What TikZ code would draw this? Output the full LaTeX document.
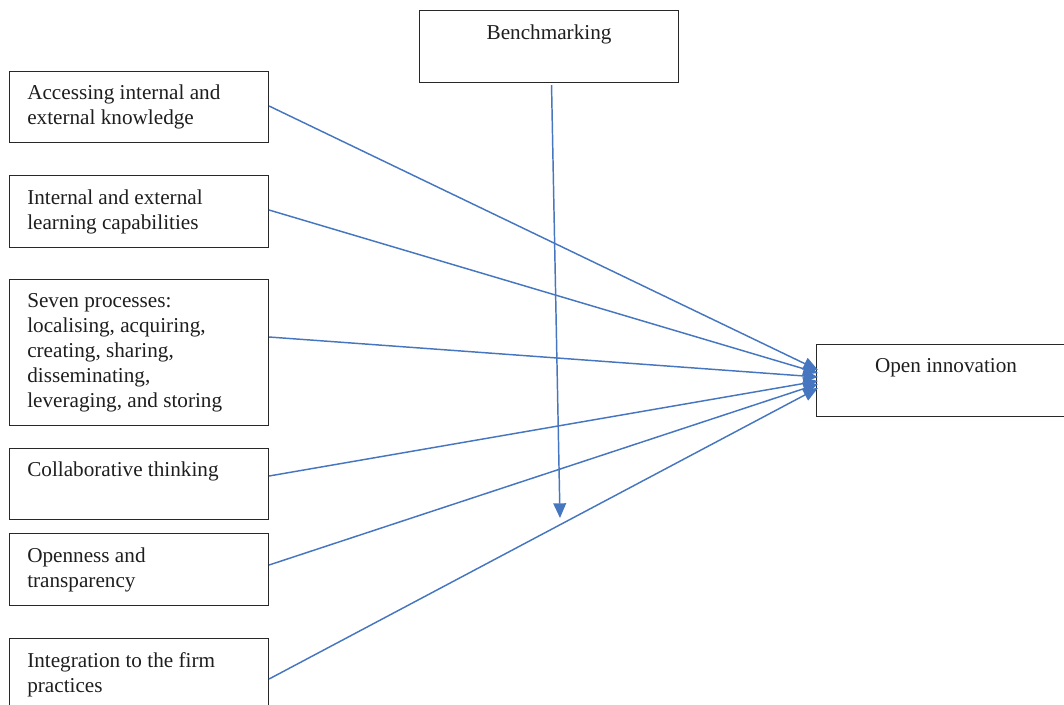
\documentclass[tikz,border=0pt]{standalone}
\usepackage{fontspec}
\setmainfont{Liberation Serif}
\usetikzlibrary{arrows.meta,calc}
\definecolor{arrowblue}{RGB}{70,118,192}
\definecolor{boxline}{RGB}{40,40,40}
\definecolor{txtcol}{RGB}{30,30,30}
\begin{document}
\begin{tikzpicture}[x=0.75pt,y=-0.75pt,
  box/.style={draw=boxline, line width=0.8pt, anchor=north west, inner sep=0pt,
              minimum width=194.25pt, minimum height=53.25pt},
  txt/.style={anchor=north west, inner sep=0pt, align=left, text=txtcol,
              font=\fontsize{15.9}{18.75}\selectfont},
  ctxt/.style={anchor=north, inner sep=0pt, align=center, text=txtcol,
              font=\fontsize{15.9}{18.75}\selectfont},
  arr/.style={draw=arrowblue, line width=1.1pt, -{Triangle[length=11pt,width=9.5pt]}}]
\useasboundingbox (0,0) rectangle (1064,704);
% boxes
\node[box, minimum height=54pt] (bench) at (419,10) {};
\node[box] (acc) at (9,71) {};
\node[box, minimum height=54pt] (int) at (9,175) {};
\node[box, minimum height=109.5pt] (sev) at (9,279) {};
\node[box] (col) at (9,448) {};
\node[box, minimum height=54pt] (opn) at (9,533) {};
\node[box, minimum height=60pt] (ign) at (9,638) {};
\node[box, minimum height=54pt] (oi) at (816,344) {};
% texts
\node[ctxt] (benchT) at ($(bench.north)+(0,14.5)$) {Benchmarking};
\node[txt] (accT) at ($(acc.north west)+(18,13.5)$) {Accessing internal and\\external knowledge};
\node[txt] (intT) at ($(int.north west)+(18,14.5)$) {Internal and external\\learning capabilities};
\node[txt] (sevT) at ($(sev.north west)+(18,14.5)$) {Seven processes:\\localising, acquiring,\\creating, sharing,\\disseminating,\\leveraging, and storing};
\node[txt] (colT) at ($(col.north west)+(18,13.5)$) {Collaborative thinking};
\node[txt] (opnT) at ($(opn.north west)+(18,14.5)$) {Openness and\\transparency};
\node[txt] (ignT) at ($(ign.north west)+(18,14.5)$) {Integration to the firm\\practices};
\node[ctxt] (oiT) at ($(oi.north)+(0,14.5)$) {Open innovation};
% connector end points
\coordinate (t1) at ($(oi.north west)+(2,26)$);
\coordinate (t2) at ($(oi.north west)+(2,29)$);
\coordinate (t3) at ($(oi.north west)+(2,33)$);
\coordinate (t4) at ($(oi.north west)+(2,37)$);
\coordinate (t5) at ($(oi.north west)+(2,40)$);
\coordinate (t6) at ($(oi.north west)+(2,44)$);
\coordinate (bend) at (560,518);
% connectors
\draw[arr] ($(acc.north east)+(0,35)$) -- (t1);
\draw[arr] ($(int.north east)+(0,35)$) -- (t2);
\draw[arr] ($(sev.north east)+(0,58)$) -- (t3);
\draw[arr] ($(col.north east)+(0,28)$) -- (t4);
\draw[arr] ($(opn.north east)+(0,32)$) -- (t5);
\draw[arr] ($(ign.north east)+(0,41)$) -- (t6);
\draw[arr] ($(bench.south)+(2.5,2)$) -- (bend);
\end{tikzpicture}
\end{document}
